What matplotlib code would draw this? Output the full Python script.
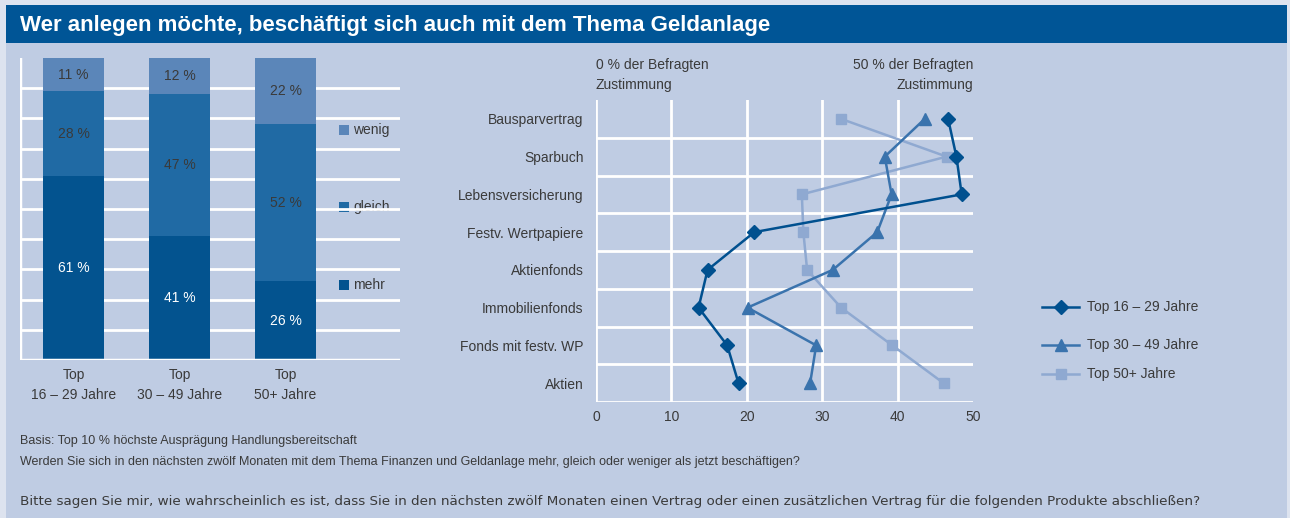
import matplotlib
matplotlib.use("Agg")
import matplotlib.pyplot as plt
from matplotlib.patches import Rectangle
from matplotlib.lines import Line2D

plt.rcParams['font.family'] = ['Liberation Sans', 'DejaVu Sans']

# --- data: left chart (stacked bars) ---
groups = ["Top\n16 – 29 Jahre", "Top\n30 – 49 Jahre", "Top\n50+ Jahre"]
mehr = [61, 41, 26]
gleich = [28, 47, 52]
wenig = [11, 12, 22]

# --- data: right chart (lines) ---
produkte = ["Bausparvertrag", "Sparbuch", "Lebensversicherung", "Festv. Wertpapiere",
            "Aktienfonds", "Immobilienfonds", "Fonds mit festv. WP", "Aktien"]
top_16_29 = [46.7, 47.8, 48.5, 21.0, 14.8, 13.6, 17.4, 18.9]
top_30_49 = [43.6, 38.3, 39.2, 37.3, 31.4, 20.1, 29.2, 28.4]
top_50plus = [32.5, 46.5, 27.3, 27.5, 28.0, 32.5, 39.3, 46.1]
x_ticks = [0, 10, 20, 30, 40, 50]

W, H = 1290, 518
C_OUT = "#dde3ef"
C_PANEL = "#bfcce3"
C_TITLE = "#005596"
C_TXT = "#3a3a3a"
C_MEHR = "#03538f"
C_GLEICH = "#206aa4"
C_WENIG = "#5b86b9"
C_L1 = "#00508f"
C_L2 = "#3a73ad"
C_L3 = "#8fa9d1"
FS = 10

fig = plt.figure(figsize=(W / 100, H / 100), dpi=100, facecolor=C_OUT)


def px_axes(x0, y0, x1, y1, **kw):
    # axes from pixel box (top-left origin)
    return fig.add_axes([x0 / W, 1 - y1 / H, (x1 - x0) / W, (y1 - y0) / H], **kw)


# background overlay in pixel coordinates
ov = px_axes(0, 0, W, H, zorder=0)
ov.set_xlim(0, W)
ov.set_ylim(H, 0)
ov.axis("off")
ov.add_patch(Rectangle((6, 43), 1281, H - 43, color=C_PANEL, lw=0))
ov.add_patch(Rectangle((6, 5), 1281, 38, color=C_TITLE, lw=0))
ov.text(20, 25, "Wer anlegen möchte, beschäftigt sich auch mit dem Thema Geldanlage",
        color="white", fontsize=16, fontweight="bold", va="center", ha="left")

# ---------------- left: stacked bars ----------------
ax1 = px_axes(20, 58, 400, 360, zorder=2)
ax1.set_facecolor("none")
pos = list(range(len(groups)))
bw = 61 / 106
ax1.set_xlim(-53.5 / 106, (400 - 73.5) / 106)
ax1.set_ylim(0, 100)
for yv in range(10, 100, 10):
    ax1.axhline(yv, color="white", lw=2, zorder=0)
ax1.axhline(0, color="white", lw=2.5, zorder=3)
ax1.axvline(-53.5 / 106, color="white", lw=2.5, zorder=3)
bottoms2 = mehr
bottoms3 = [a + b for a, b in zip(mehr, gleich)]
ax1.bar(pos, mehr, width=bw, color=C_MEHR, zorder=2)
ax1.bar(pos, gleich, width=bw, bottom=bottoms2, color=C_GLEICH, zorder=2)
ax1.bar(pos, wenig, width=bw, bottom=bottoms3, color=C_WENIG, zorder=2)
for i in pos:
    ax1.text(i, mehr[i] / 2, f"{mehr[i]} %", color="white", ha="center", va="center", fontsize=FS)
    ax1.text(i, bottoms2[i] + gleich[i] / 2, f"{gleich[i]} %", color=C_TXT, ha="center", va="center", fontsize=FS)
    ax1.text(i, bottoms3[i] + wenig[i] / 2, f"{wenig[i]} %", color=C_TXT, ha="center", va="center", fontsize=FS)
ax1.set_xticks(pos)
ax1.set_xticklabels(groups, color=C_TXT, fontsize=FS, linespacing=1.55)
ax1.tick_params(axis="x", length=0, pad=6)
ax1.set_yticks([])
for s in ax1.spines.values():
    s.set_visible(False)

# legend for bars
for lab, col, yy in [("wenig", C_WENIG, 130), ("gleich", C_GLEICH, 207), ("mehr", C_MEHR, 285)]:
    ov.add_patch(Rectangle((339, yy - 5), 10, 10, color=col, lw=0, zorder=5))
    ov.text(353, yy, lab, color=C_TXT, fontsize=FS, va="center", ha="left", zorder=5)

# ---------------- right: line chart ----------------
ax2 = px_axes(596, 100, 973, 402, zorder=2)
ax2.set_facecolor("none")
ax2.set_xlim(0, 50)
ax2.set_ylim(len(produkte) - 0.5, -0.5)
for xv in x_ticks[:-1]:
    ax2.axvline(xv, color="white", lw=2, zorder=0)
for k in range(len(produkte)):
    ax2.axhline(k + 0.5, color="white", lw=2, zorder=0)
yy = list(range(len(produkte)))
l1, = ax2.plot(top_16_29, yy, color=C_L1, lw=1.8, marker="D", ms=7, zorder=5, clip_on=False)
l2, = ax2.plot(top_30_49, yy, color=C_L2, lw=1.8, marker="^", ms=9, zorder=4, clip_on=False)
l3, = ax2.plot(top_50plus, yy, color=C_L3, lw=1.8, marker="s", ms=7.5, zorder=3, clip_on=False)
ax2.set_xticks(x_ticks)
ax2.set_xticklabels([str(t) for t in x_ticks], color=C_TXT, fontsize=FS)
ax2.set_yticks(yy)
ax2.set_yticklabels(produkte, color=C_TXT, fontsize=FS)
ax2.tick_params(axis="both", length=0)
ax2.tick_params(axis="y", pad=9)
ax2.tick_params(axis="x", pad=6)
for s in ax2.spines.values():
    s.set_visible(False)

ov.text(596, 75, "0 % der Befragten\nZustimmung", color=C_TXT, fontsize=FS,
        ha="left", va="center", linespacing=1.5)
ov.text(973, 75, "50 % der Befragten\nZustimmung", color=C_TXT, fontsize=FS,
        ha="right", va="center", linespacing=1.5, multialignment="right")

# legend for lines
for line, lab, ly in [(l1, "Top 16 – 29 Jahre", 307), (l2, "Top 30 – 49 Jahre", 345), (l3, "Top 50+ Jahre", 374)]:
    ov.add_line(Line2D([1042, 1079], [ly, ly], color=line.get_color(), lw=1.8, zorder=5))
    ov.add_line(Line2D([1060.5], [ly], color=line.get_color(), marker=line.get_marker(),
                       ms=line.get_markersize(), lw=0, zorder=6))
    ov.text(1087, ly, lab, color=C_TXT, fontsize=FS, va="center", ha="left", zorder=5)

# footnotes
ov.text(20, 441, "Basis: Top 10 % höchste Ausprägung Handlungsbereitschaft",
        color=C_TXT, fontsize=9, va="center")
ov.text(20, 462, "Werden Sie sich in den nächsten zwölf Monaten mit dem Thema Finanzen und Geldanlage mehr, gleich oder weniger als jetzt beschäftigen?",
        color=C_TXT, fontsize=9, va="center")
ov.text(20, 501, "Bitte sagen Sie mir, wie wahrscheinlich es ist, dass Sie in den nächsten zwölf Monaten einen Vertrag oder einen zusätzlichen Vertrag für die folgenden Produkte abschließen?",
        color=C_TXT, fontsize=9.7, va="center", family="DejaVu Sans")

fig.savefig("out.png", dpi=100, facecolor=C_OUT)
